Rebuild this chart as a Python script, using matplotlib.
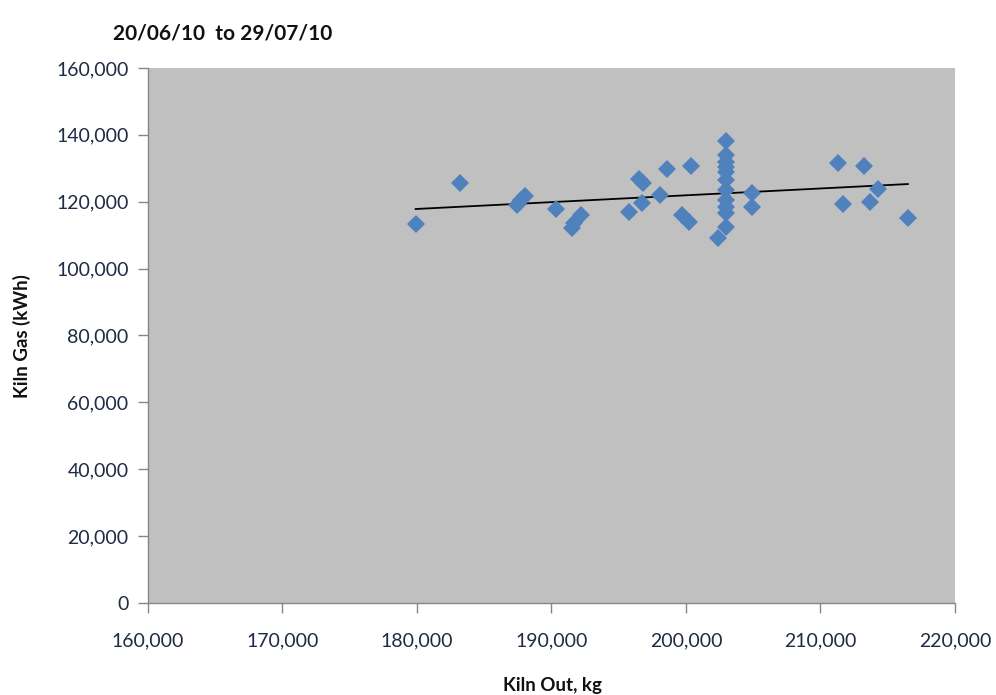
import numpy as np
import matplotlib
matplotlib.use("Agg")
import matplotlib.pyplot as plt
from matplotlib.ticker import FuncFormatter

# Daily kiln output (kg) and kiln gas use (kWh)
kiln_out = [179900, 183200, 187400, 187700, 188000, 190300, 191500, 191700, 192200,
            195800, 196500, 196800, 196700, 198100, 198600, 199700, 200200, 200400,
            203000, 203000, 203000, 203000, 203000, 203000, 203000, 203000, 203000,
            203000, 203000, 202400, 204900, 204900, 211300, 211700, 213200, 213700,
            214300, 216500]
kiln_gas = [113300, 125600, 119000, 120500, 121700, 117800, 112100, 113600, 116000,
            117000, 126700, 125500, 119500, 122000, 129700, 116000, 113800, 130800,
            138200, 134000, 132000, 130500, 129000, 126500, 123500, 120500, 118500,
            116600, 112500, 109300, 122500, 118300, 131700, 119300, 130700, 120000,
            123700, 115200]

title = "20/06/10  to 29/07/10"
x_label = "Kiln Out, kg"
y_label = "Kiln Gas (kWh)"
x_ticks = [160000, 170000, 180000, 190000, 200000, 210000, 220000]
y_ticks = [0, 20000, 40000, 60000, 80000, 100000, 120000, 140000, 160000]

plt.rcParams['font.family'] = ['Lato', 'DejaVu Sans']

fig = plt.figure(figsize=(9.96, 6.95), dpi=100)
ax = fig.add_axes([0.1486, 0.1324, 0.8102, 0.7698])
ax.set_facecolor('#c0c0c0')

x = np.array(kiln_out, dtype=float)
y = np.array(kiln_gas, dtype=float)

ax.plot(x, y, linestyle='none', marker='D', markersize=9,
        color='#4f81bd', markeredgewidth=0, zorder=3)

# Linear trend line across the data range
slope, intercept = np.polyfit(x, y, 1)
xf = np.array([x.min(), x.max()])
ax.plot(xf, slope * xf + intercept, color='black', linewidth=1.3, zorder=2)

ax.set_xlim(160000, 220000)
ax.set_ylim(0, 160000)
ax.set_xticks(x_ticks)
ax.set_yticks(y_ticks)
fmt = FuncFormatter(lambda v, p: f"{int(v):,}")
ax.xaxis.set_major_formatter(fmt)
ax.yaxis.set_major_formatter(fmt)

for s in ['top', 'right']:
    ax.spines[s].set_visible(False)
for s in ['left', 'bottom']:
    ax.spines[s].set_color('#868686')
    ax.spines[s].set_linewidth(1.0)

ax.tick_params(axis='both', direction='out', length=7, width=1.0,
               color='#868686', labelsize=14, labelcolor='#1f2a44')
ax.tick_params(axis='x', pad=14)
ax.tick_params(axis='y', pad=7)

fig.text(0.1135, 0.952, title, fontsize=15, fontweight='bold',
         color='#111111', ha='left', va='center')
fig.text(0.555, 0.013, x_label, fontsize=13.5, fontweight='bold',
         color='#111111', ha='center', va='center')
fig.text(0.022, 0.517, y_label, fontsize=13.5, fontweight='bold',
         color='#111111', ha='center', va='center', rotation=90)

fig.savefig('out.png', dpi=100)
